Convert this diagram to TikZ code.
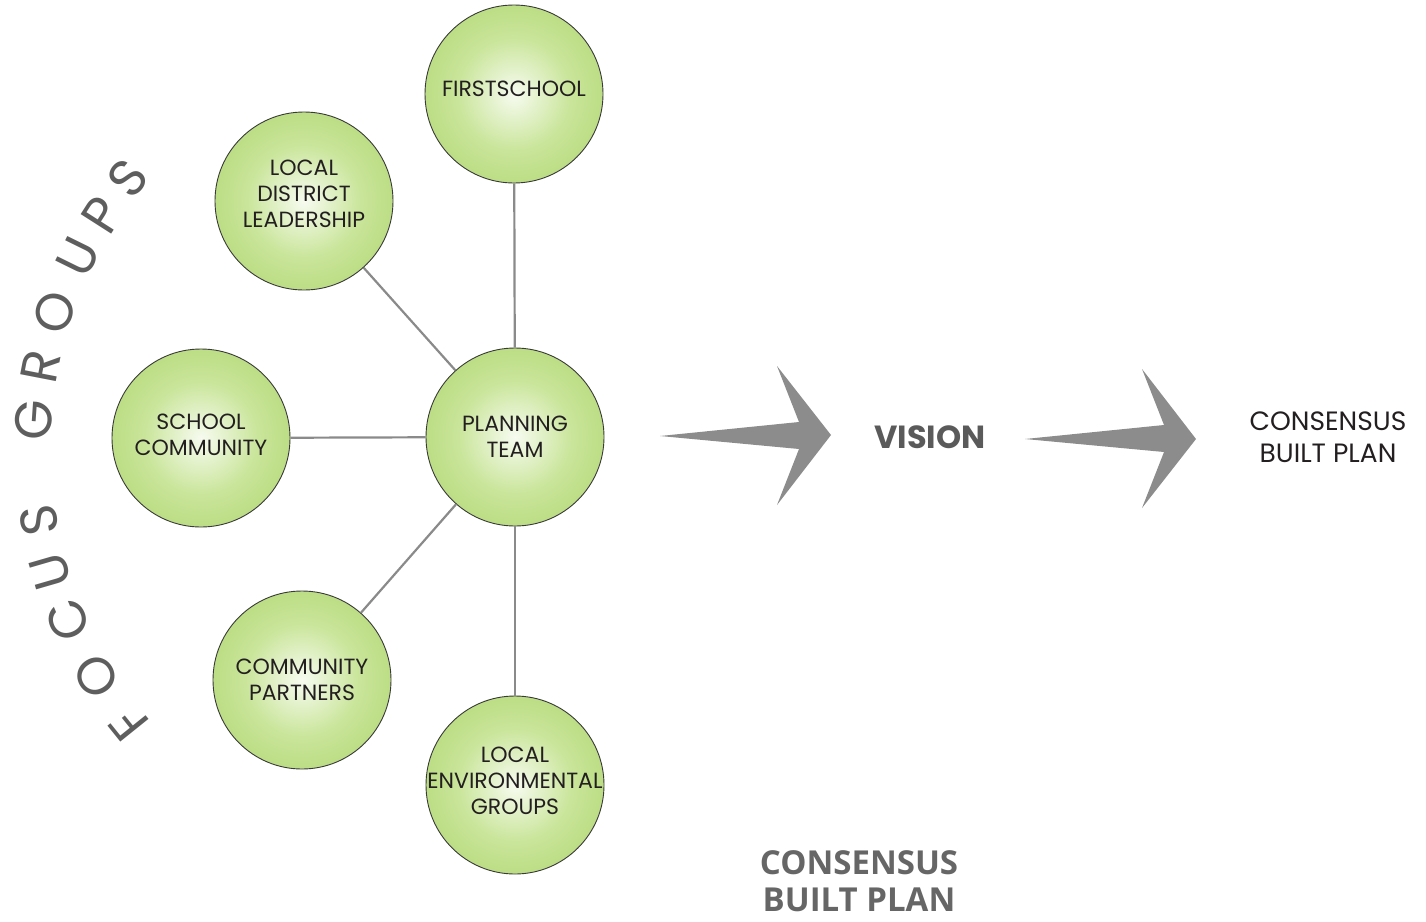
\documentclass[tikz,border=0pt]{standalone}
\usepackage{fontspec}
\setmainfont{Poppins}
\newfontfamily\boldsans{Open Sans}
\definecolor{ballA}{HTML}{F7FBF0}
\definecolor{ballB}{HTML}{C9E59A}
\definecolor{ballC}{HTML}{98C94A}
\definecolor{ballline}{HTML}{3A3A3A}
\definecolor{linkgray}{HTML}{8A8A8A}
\definecolor{arrowgray}{HTML}{8C8C8C}
\definecolor{textdark}{HTML}{231F20}
\definecolor{focusgray}{HTML}{5E5E5E}
\definecolor{visiongray}{HTML}{5A5A5A}
\definecolor{plangray}{HTML}{666666}
\pgfdeclareradialshading{greenball}{\pgfpoint{0bp}{0bp}}{color(0bp)=(ballA); color(16bp)=(ballB); color(50bp)=(ballC)}
\tikzset{
  ball/.style={circle, minimum size=178pt, inner sep=0pt, draw=ballline, line width=0.9pt,
    shading=greenball, align=center, text=textdark, font=\fontsize{22}{26}\selectfont},
  link/.style={draw=linkgray, line width=2.2pt},
  bigarrow/.style={fill=arrowgray},
  focusletter/.style={text=focusgray, font=\fontsize{52}{52}\selectfont, inner sep=0pt},
}
\begin{document}
\begin{tikzpicture}[x=1pt,y=-1pt]
\useasboundingbox (0,0) rectangle (1426,921);

% circles
\node[ball, text depth=10pt] (fs) at (514,94) {FIRSTSCHOOL};
\node[ball, text depth=14pt] (ldl) at (304,201) {LOCAL\\DISTRICT\\LEADERSHIP};
\node[ball, text depth=6pt] (sc) at (201,438) {SCHOOL\\COMMUNITY};
\node[ball] (pt) at (515,437) {PLANNING\\TEAM};
\node[ball] (cp) at (302,680) {COMMUNITY\\PARTNERS};
\node[ball, text depth=8pt] (leg) at (515,785) {LOCAL\\\makebox[0pt]{ENVIRONMENTAL}\\GROUPS};

% connectors
\draw[link] (pt) -- (fs);
\draw[link] (pt) -- (ldl);
\draw[link] (pt) -- (sc);
\draw[link] (pt) -- (cp);
\draw[link] (pt) -- (leg);

% focus groups arc text
\coordinate (arcc) at (470,450);
\foreach \l/\a [count=\i] in {F/218.8, O/211.2, C/202.9, U/196.2, S/189.2, G/176.1, R/169.0, O/161.7, U/153.8, P/147.4, S/141.5}
  \path (arcc) ++(-\a:437) node[focusletter, rotate={\a-90}] (fg\i) {\l};

% big arrows
\fill[bigarrow] (660,436) -- (799,422) -- (777,366) -- (831,435) -- (777,505) -- (799,449) -- cycle;
\fill[bigarrow] (1025,439) -- (1164,425) -- (1142,369) -- (1196,439) -- (1142,508) -- (1164,452) -- cycle;

% labels
\node[text=visiongray, font=\bfseries\fontsize{32}{32}\selectfont] (vision) at (930,437) {VISION};
\node[text=textdark, align=center, font=\fontsize{26.5}{32}\selectfont] (cbp) at (1328,437) {CONSENSUS\\BUILT PLAN};
\node[text=plangray, align=center, font=\boldsans\bfseries\fontsize{33}{37}\selectfont] (cbp2) at (859,881) {CONSENSUS\\BUILT PLAN};
\end{tikzpicture}
\end{document}
